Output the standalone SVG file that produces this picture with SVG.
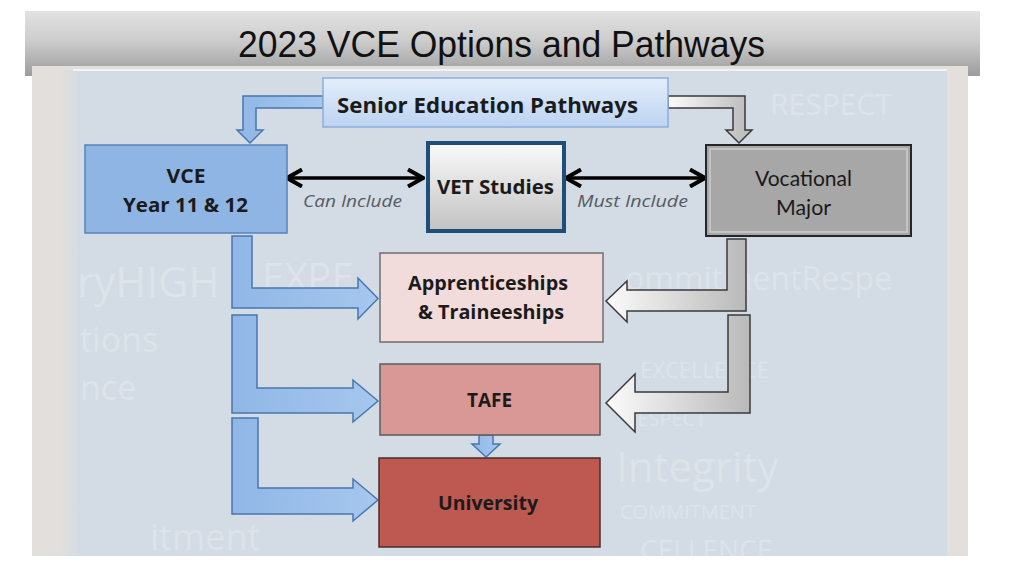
<svg xmlns="http://www.w3.org/2000/svg" width="1024" height="576" viewBox="0 0 1024 576">
<style>
.lbl{font-family:"Open Sans","Liberation Sans",sans-serif;font-weight:bold;fill:#1b1b1b;text-anchor:middle}
.note{font-family:"Open Sans","Liberation Sans",sans-serif;font-style:italic;font-size:17px;fill:#555b62;text-anchor:middle}
.voc{font-family:"Lato","Liberation Sans",sans-serif;font-size:21px;fill:#1a1a1a;text-anchor:middle}
.wm{font-family:"Open Sans","Liberation Sans",sans-serif;fill:#e4e9ee;opacity:0.55}
.barrow{fill:url(#blueA);stroke:#4a76b0;stroke-width:1.5;stroke-linejoin:miter}
.garrow{fill:url(#grayA);stroke:#3a3a3a;stroke-width:1.5;stroke-linejoin:miter}
.dbl{stroke:#000;stroke-width:3.5;fill:none;marker-start:url(#chev);marker-end:url(#chev)}
</style>
<defs>
<linearGradient id="titleG" x1="0" y1="0" x2="0" y2="1">
<stop offset="0" stop-color="#e2e2e2"/><stop offset="0.45" stop-color="#cdcdcd"/><stop offset="1" stop-color="#9c9c9c"/>
</linearGradient>
<linearGradient id="senG" x1="0" y1="0" x2="0" y2="1">
<stop offset="0" stop-color="#e4eefb"/><stop offset="1" stop-color="#bcd3f1"/>
</linearGradient>
<linearGradient id="blueA" x1="0" y1="0" x2="1" y2="0">
<stop offset="0" stop-color="#8fb7e6"/><stop offset="1" stop-color="#a6c7ee"/>
</linearGradient>
<linearGradient id="grayA" x1="0" y1="0" x2="1" y2="0">
<stop offset="0" stop-color="#fbfbfb"/><stop offset="1" stop-color="#b9b9b9"/>
</linearGradient>
<linearGradient id="vetG" x1="0" y1="0" x2="0" y2="1">
<stop offset="0" stop-color="#fafafa"/><stop offset="1" stop-color="#c2c2c2"/>
</linearGradient>
<linearGradient id="edgeL" x1="0" y1="0" x2="1" y2="0">
<stop offset="0" stop-color="#e4dfdb"/><stop offset="1" stop-color="#d3dce4"/>
</linearGradient>
<clipPath id="picClip"><rect x="78" y="70" width="869" height="486"/></clipPath>
<marker id="chev" viewBox="0 0 20 20" refX="18" refY="10" markerWidth="20" markerHeight="20" markerUnits="userSpaceOnUse" orient="auto-start-reverse">
<polyline points="3,1.5 18,10 3,18.5" fill="none" stroke="#000" stroke-width="4" stroke-linejoin="miter"/>
</marker>
</defs>

<rect width="1024" height="576" fill="#ffffff"/>

<!-- title bar -->
<g id="title">
<rect x="25" y="11" width="955" height="65" fill="url(#titleG)"/>
</g>

<!-- picture frame -->
<g id="picture">
<rect x="32" y="66" width="936" height="490" fill="#e3dfdc"/>
<rect x="60" y="70" width="20" height="486" fill="url(#edgeL)"/>
<rect x="78" y="70" width="869" height="486" fill="#d3dce4"/>
<rect x="73" y="69" width="874" height="2" fill="#f2f2f2"/>
<!-- faint watermark words -->
<g clip-path="url(#picClip)">
<text class="wm" x="77" y="297" font-size="42">ryHIGH</text>
<text class="wm" x="262" y="292" font-size="40">EXPE</text>
<text class="wm" x="80" y="352" font-size="34">tions</text>
<text class="wm" x="80" y="400" font-size="34">nce</text>
<text class="wm" x="616" y="482" font-size="42">Integrity</text>
<text class="wm" x="620" y="519" font-size="20">COMMITMENT</text>
<text class="wm" x="640" y="560" font-size="28">CELLENCE</text>
<text class="wm" x="625" y="290" font-size="32">ommitmentRespe</text>
<text class="wm" x="640" y="378" font-size="22">EXCELLENCE</text>
<text class="wm" x="625" y="426" font-size="20">RESPECT</text>
<text class="wm" x="770" y="115" font-size="30">RESPECT</text>
<text class="wm" x="150" y="550" font-size="36">itment</text>
</g>
</g>

<text x="501.5" y="57" font-family="Liberation Sans, Arial, sans-serif" font-size="36" fill="#111" text-anchor="middle" textLength="527" lengthAdjust="spacingAndGlyphs">2023 VCE Options and Pathways</text>

<!-- connectors -->
<g id="connectors">
<path class="barrow" d="M323,96 L243,96 L243,130 L237,130 L250,143 L263,130 L256,130 L256,108 L323,108 Z"/>
<path class="garrow" d="M668,96 L745,96 L745,130 L752,130 L739,143 L726,130 L733,130 L733,108 L668,108 Z"/>
<line class="dbl" x1="287" y1="178" x2="423" y2="178"/>
<line class="dbl" x1="566" y1="178" x2="705" y2="178"/>
<path class="barrow" d="M232,236 L252,236 L252,288 L358,288 L358,278 L378,298.5 L358,319 L358,308 L232,308 Z"/>
<path class="barrow" d="M232,315 L257,315 L257,388 L353,388 L353,380 L378,401 L353,422 L353,413 L232,413 Z"/>
<path class="barrow" d="M232,418 L258,418 L258,488 L353,488 L353,479 L378,500 L353,521 L353,514 L232,514 Z"/>
<path class="garrow" d="M746,239 L727,239 L727,290 L627,290 L627,281 L606,301 L627,322 L627,311 L746,311 Z"/>
<path class="garrow" d="M750,315 L728,315 L728,392 L635,392 L635,374 L606,403 L635,432 L635,413 L750,413 Z"/>
<path class="barrow" d="M479,435 L493,435 L493,444 L500,444 L486,457 L472,444 L479,444 Z"/>
</g>

<!-- nodes -->
<g id="senior">
<rect x="323" y="78" width="345" height="49" fill="url(#senG)" stroke="#8cafdc" stroke-width="1.5"/>
<text class="lbl" x="487.5" y="113" font-size="21" textLength="301" lengthAdjust="spacingAndGlyphs">Senior Education Pathways</text>
</g>
<g id="vce">
<rect x="85" y="145" width="202" height="88" fill="#8fb5e4" stroke="#5582bd" stroke-width="1.5"/>
<text class="lbl" x="186" y="183" font-size="19" fill="#16233a" textLength="39" lengthAdjust="spacingAndGlyphs">VCE</text>
<text class="lbl" x="185.5" y="212" font-size="19" textLength="125" lengthAdjust="spacingAndGlyphs">Year 11 &amp; 12</text>
</g>
<text class="note" x="352.5" y="207" textLength="99" lengthAdjust="spacingAndGlyphs">Can Include</text>
<g id="vet">
<rect x="428" y="143" width="136" height="88" fill="url(#vetG)" stroke="#1f4e79" stroke-width="4"/>
<text class="lbl" x="495.5" y="194" font-size="20" textLength="117" lengthAdjust="spacingAndGlyphs">VET Studies</text>
</g>
<text class="note" x="632.5" y="207" textLength="111" lengthAdjust="spacingAndGlyphs">Must Include</text>
<g id="vocational">
<rect x="706" y="145" width="205" height="91" fill="#a7a7a7" stroke="#262626" stroke-width="2"/>
<rect x="710" y="149" width="197" height="83" fill="none" stroke="#cdcdcd" stroke-width="1.5"/>
<text class="voc" x="803.5" y="186" textLength="97" lengthAdjust="spacingAndGlyphs">Vocational</text>
<text class="voc" x="803.5" y="215" textLength="55" lengthAdjust="spacingAndGlyphs">Major</text>
</g>
<g id="apprenticeships">
<rect x="380" y="253" width="223" height="89" fill="#f2dcdb" stroke="#6e6e6e" stroke-width="1.5"/>
<text class="lbl" x="488" y="290" font-size="20" textLength="160" lengthAdjust="spacingAndGlyphs">Apprenticeships</text>
<text class="lbl" x="491" y="319" font-size="20" textLength="146" lengthAdjust="spacingAndGlyphs">&amp; Traineeships</text>
</g>
<g id="tafe">
<rect x="380" y="364" width="220" height="71" fill="#d99795" stroke="#5c5c5c" stroke-width="1.5"/>
<text class="lbl" x="489.5" y="407" font-size="20" textLength="45" lengthAdjust="spacingAndGlyphs">TAFE</text>
</g>
<g id="university">
<rect x="379" y="458" width="221" height="89" fill="#bd5950" stroke="#4b2b2b" stroke-width="1.5"/>
<text class="lbl" x="488" y="510" font-size="20" textLength="100" lengthAdjust="spacingAndGlyphs">University</text>
</g>
</svg>
